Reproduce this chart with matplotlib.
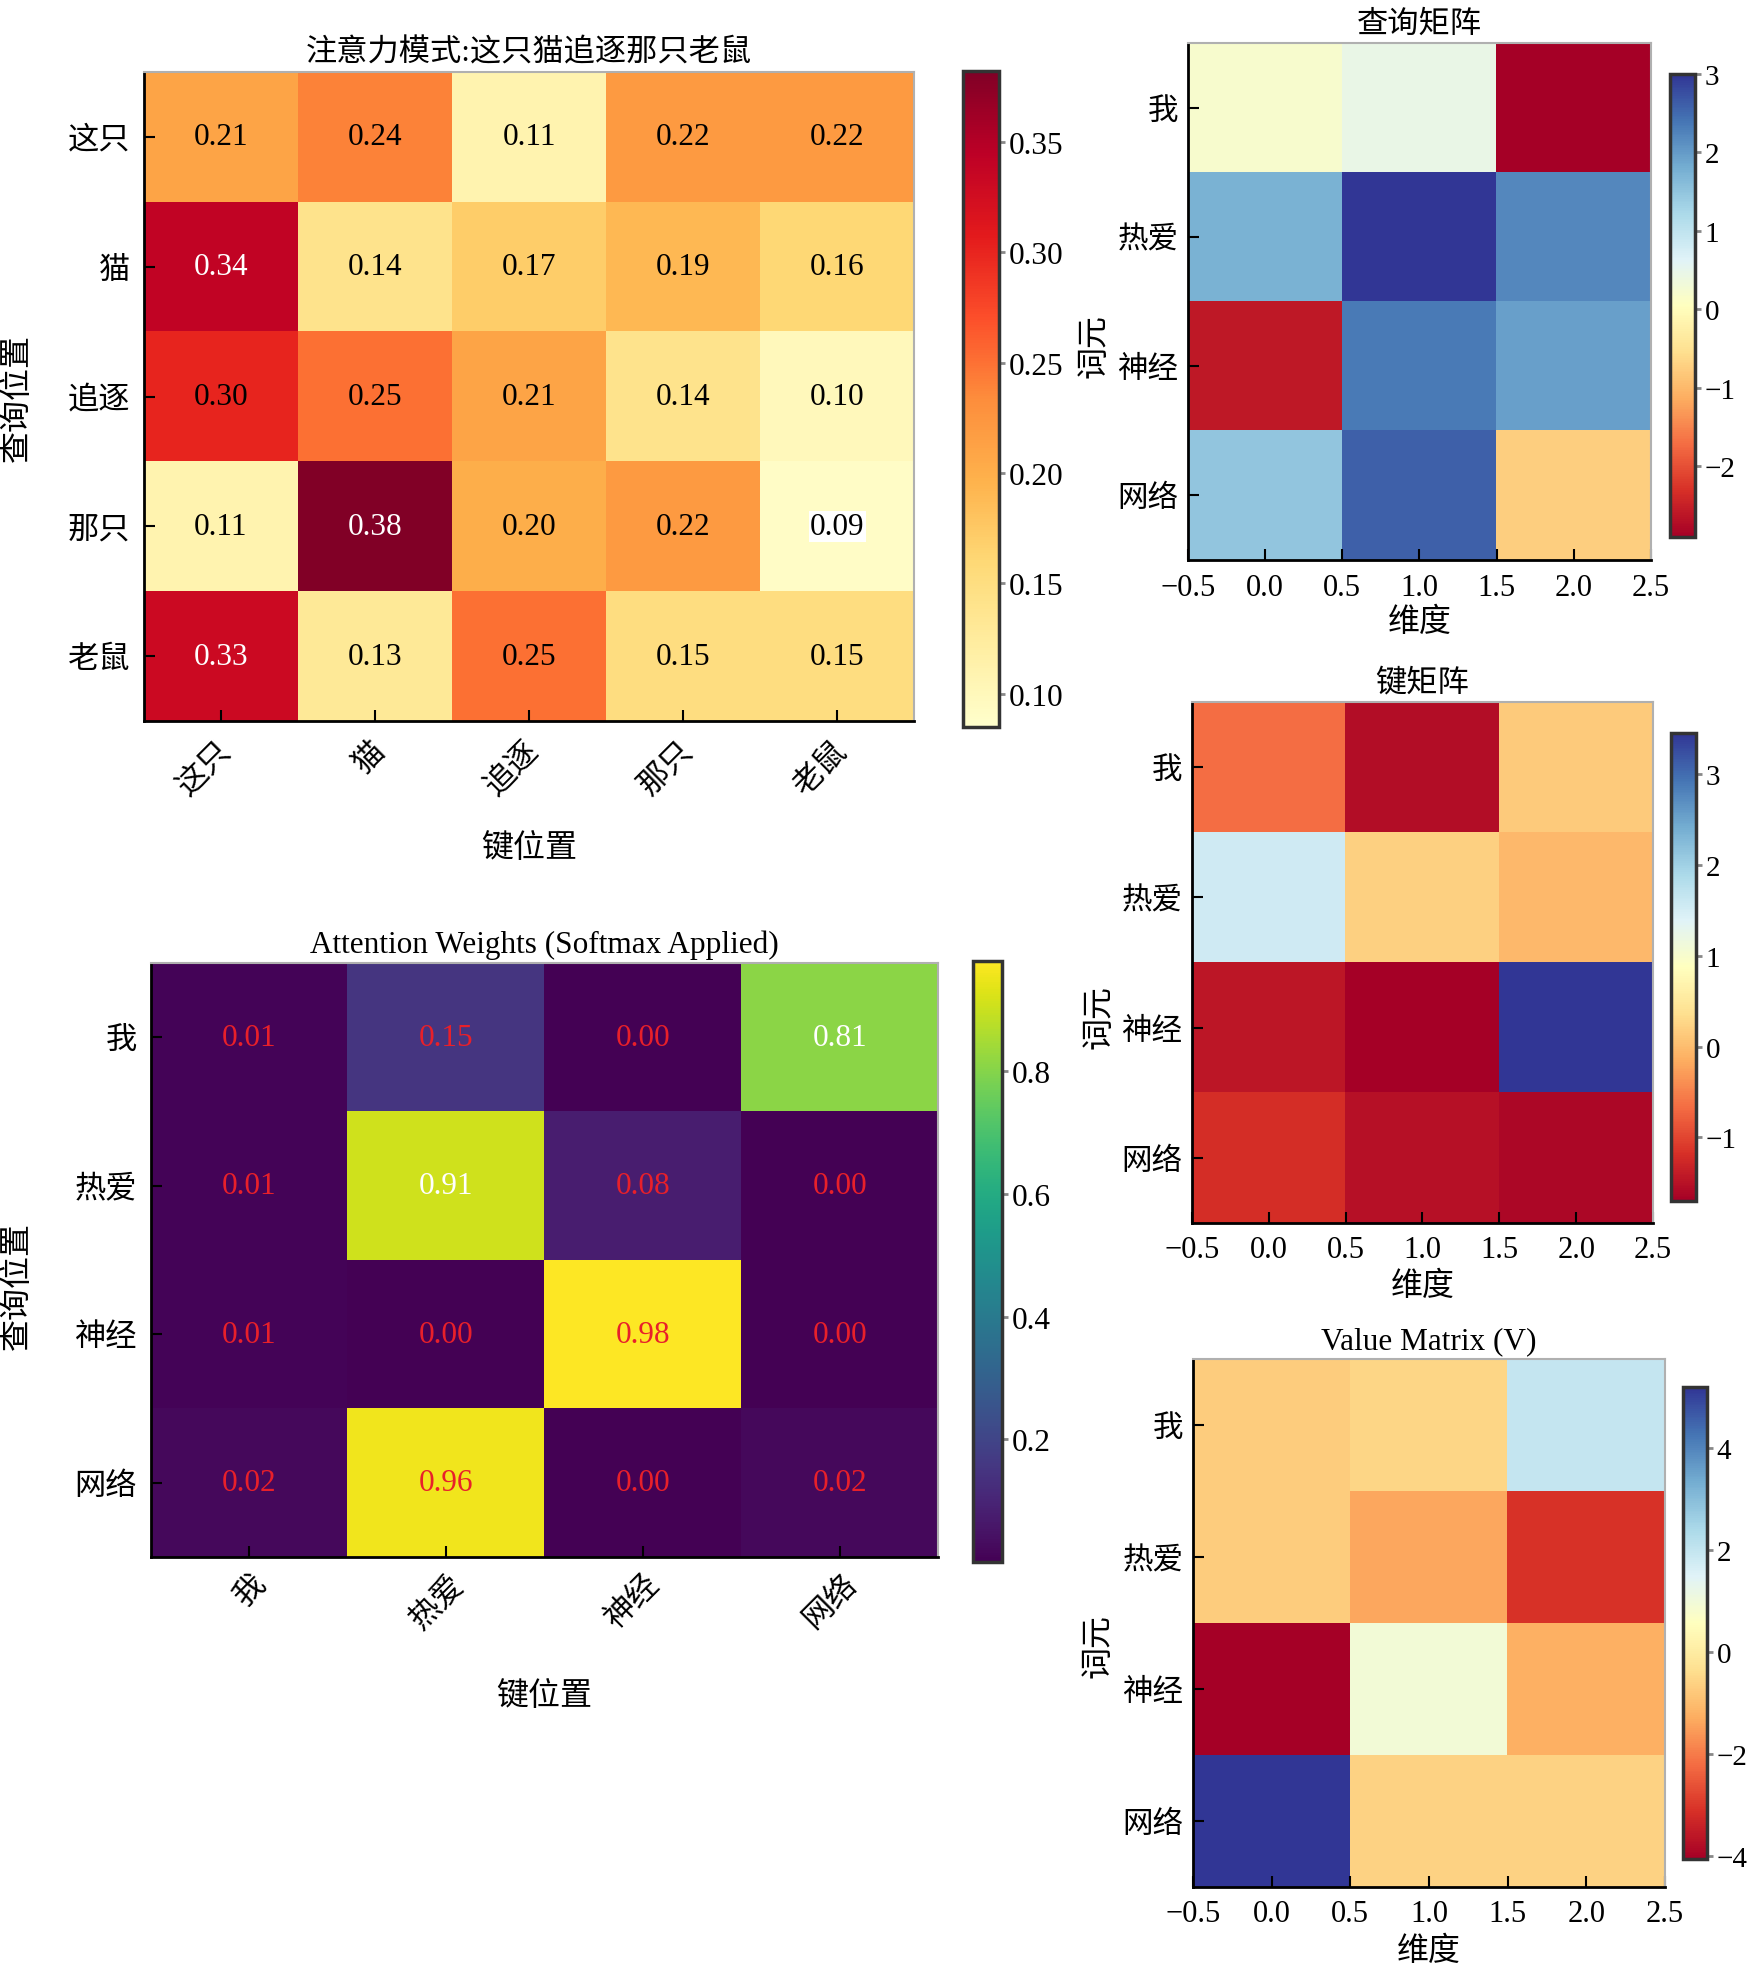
import numpy as np
import matplotlib
matplotlib.use('Agg')
import matplotlib.pyplot as plt
import matplotlib.transforms as mtransforms
from matplotlib.ticker import MultipleLocator

plt.rcParams['font.family'] = ['Liberation Serif', 'Noto Sans CJK SC']
plt.rcParams['axes.unicode_minus'] = True

W, H = 1758, 1974

# ---- data ----
Sent_tokens = ['这只', '猫', '追逐', '那只', '老鼠']
Sent_attn = np.array([[0.21, 0.24, 0.11, 0.22, 0.22],
                      [0.34, 0.14, 0.17, 0.19, 0.16],
                      [0.30, 0.25, 0.21, 0.14, 0.10],
                      [0.11, 0.38, 0.20, 0.22, 0.09],
                      [0.33, 0.13, 0.25, 0.15, 0.15]])
Sent_range = (0.085, 0.382)

Tokens = ['我', '热爱', '神经', '网络']
Attn_weights = np.array([[0.01, 0.15, 0.00, 0.81],
                         [0.01, 0.91, 0.08, 0.00],
                         [0.01, 0.00, 0.98, 0.00],
                         [0.02, 0.96, 0.00, 0.02]])
Attn_cbar_ticks = [0.2, 0.4, 0.6, 0.8]

Q = np.array([[0.2, 0.45, -2.9],
              [1.75, 3.0, 2.2],
              [-2.6, 2.35, 1.95],
              [1.5, 2.6, -0.75]])
K = np.array([[-0.67, -1.55, 0.15],
              [1.55, 0.2, -0.05],
              [-1.45, -1.7, 3.45],
              [-1.2, -1.5, -1.6]])
V = np.array([[-0.72, -0.53, 1.96],
              [-0.72, -1.37, -3.1],
              [-4.05, 0.95, -1.2],
              [5.2, -0.6, -0.6]])

FS = 22.5  # base font size


def rect(l, t, r, b):
    return [l / W, 1 - b / H, (r - l) / W, (b - t) / H]


def style(ax):
    for s in ['left', 'bottom']:
        ax.spines[s].set_color('black')
        ax.spines[s].set_linewidth(2)
    for s in ['top', 'right']:
        ax.spines[s].set_color('#b0b0b0')
        ax.spines[s].set_linewidth(1.5)
    ax.tick_params(direction='in', length=8, width=1.5, top=False, right=False)


def shift_xlabels(ax, dx_px):
    off = mtransforms.ScaledTranslation(dx_px / 100, 0, fig.dpi_scale_trans)
    for lab in ax.get_xticklabels():
        lab.set_transform(lab.get_transform() + off)


def colorbar(im, cax, size=FS, ticks=None):
    cb = fig.colorbar(im, cax=cax, ticks=ticks)
    cb.outline.set_edgecolor('#333333')
    cb.outline.set_linewidth(2.5)
    cax.tick_params(direction='out', length=4, width=2, color='#888888',
                    labelsize=size, pad=3)
    return cb


fig = plt.figure(figsize=(W / 100, H / 100), dpi=100)

### sentence attention pattern ###################################
ax = fig.add_axes(rect(144, 73, 914, 722))
im = ax.imshow(Sent_attn, cmap='YlOrRd', aspect='auto',
               vmin=Sent_range[0], vmax=Sent_range[1])
style(ax)
ax.set_xticks(np.arange(len(Sent_tokens)))
ax.set_yticks(np.arange(len(Sent_tokens)))
ax.set_xticklabels(Sent_tokens, rotation=45, ha='right', va='center',
                   rotation_mode='anchor')
ax.set_yticklabels(Sent_tokens)
ax.tick_params(axis='x', labelsize=FS, pad=18)
ax.tick_params(axis='y', labelsize=FS, pad=10)
shift_xlabels(ax, 6)
for i in range(Sent_attn.shape[0]):
    for j in range(Sent_attn.shape[1]):
        v = Sent_attn[i, j]
        c = 'white' if v > 0.32 else 'black'
        bb = dict(facecolor='white', edgecolor='none', pad=1) if v < 0.095 else None
        ax.text(j, i, '%.2f' % v, ha='center', va='center', color=c,
                fontsize=FS, bbox=bb)
ax.set_title('注意力模式:这只猫追逐那只老鼠', fontsize=FS, pad=8)
ax.set_xlabel('键位置', fontsize=23, va='center')
ax.xaxis.set_label_coords(0.5, -0.196)
ax.set_ylabel('查询位置', fontsize=23, va='center')
ax.yaxis.set_label_coords(-0.164, 0.5)
cax = fig.add_axes(rect(963, 72, 999, 728))
colorbar(im, cax)

### softmax attention weights ####################################
white_cells = [(0, 3), (1, 1)]
ax = fig.add_axes(rect(151, 964, 938, 1558))
im = ax.imshow(Attn_weights, cmap='viridis', aspect='auto')
style(ax)
ax.set_xticks(np.arange(len(Tokens)))
ax.set_yticks(np.arange(len(Tokens)))
ax.set_xticklabels(Tokens, rotation=45, ha='right', va='center',
                   rotation_mode='anchor')
ax.set_yticklabels(Tokens)
ax.tick_params(axis='x', labelsize=FS, pad=16)
ax.tick_params(axis='y', labelsize=FS, pad=10)
shift_xlabels(ax, 13)
for i in range(Attn_weights.shape[0]):
    for j in range(Attn_weights.shape[1]):
        c = 'white' if (i, j) in white_cells else '#e8202a'
        ax.text(j, i, '%.2f' % Attn_weights[i, j], ha='center', va='center',
                color=c, fontsize=FS)
ax.set_title('Attention Weights (Softmax Applied)', fontsize=FS, pad=8)
ax.set_xlabel('键位置', fontsize=23, va='center')
ax.xaxis.set_label_coords(0.5, -0.234)
ax.set_ylabel('查询位置', fontsize=23, va='center')
ax.yaxis.set_label_coords(-0.169, 0.458)
cax = fig.add_axes(rect(973, 962, 1002, 1563))
colorbar(im, cax, ticks=Attn_cbar_ticks)

### Q / K / V matrices ###########################################
panels = [(Q, '查询矩阵', rect(1188, 44, 1651, 561), rect(1670, 75, 1695, 538), 0.416),
          (K, '键矩阵', rect(1192, 703, 1653, 1224), rect(1671, 734, 1696, 1202), 0.397),
          (V, 'Value Matrix (V)', rect(1193, 1360, 1665, 1888), rect(1683, 1388, 1707, 1860), 0.458)]

for M, title, r_ax, r_cb, ylab_y in panels:
    ax = fig.add_axes(r_ax)
    im = ax.imshow(M, cmap='RdYlBu', aspect='auto')
    style(ax)
    ax.xaxis.set_major_locator(MultipleLocator(0.5))
    ax.set_xlim(-0.5, M.shape[1] - 0.5)
    ax.set_yticks(np.arange(len(Tokens)))
    ax.set_yticklabels(Tokens)
    ax.tick_params(axis='x', labelsize=22, pad=9)
    ax.tick_params(axis='y', labelsize=22, pad=7)
    ax.set_title(title, fontsize=FS, pad=8)
    ax.set_xlabel('维度', fontsize=23, va='center')
    ax.xaxis.set_label_coords(0.5, -0.12)
    ax.set_ylabel('词元', fontsize=23, va='center')
    ax.yaxis.set_label_coords(-0.2, ylab_y)
    cax = fig.add_axes(r_cb)
    colorbar(im, cax, size=21)

plt.savefig('out.png', dpi=100)
plt.close(fig)
